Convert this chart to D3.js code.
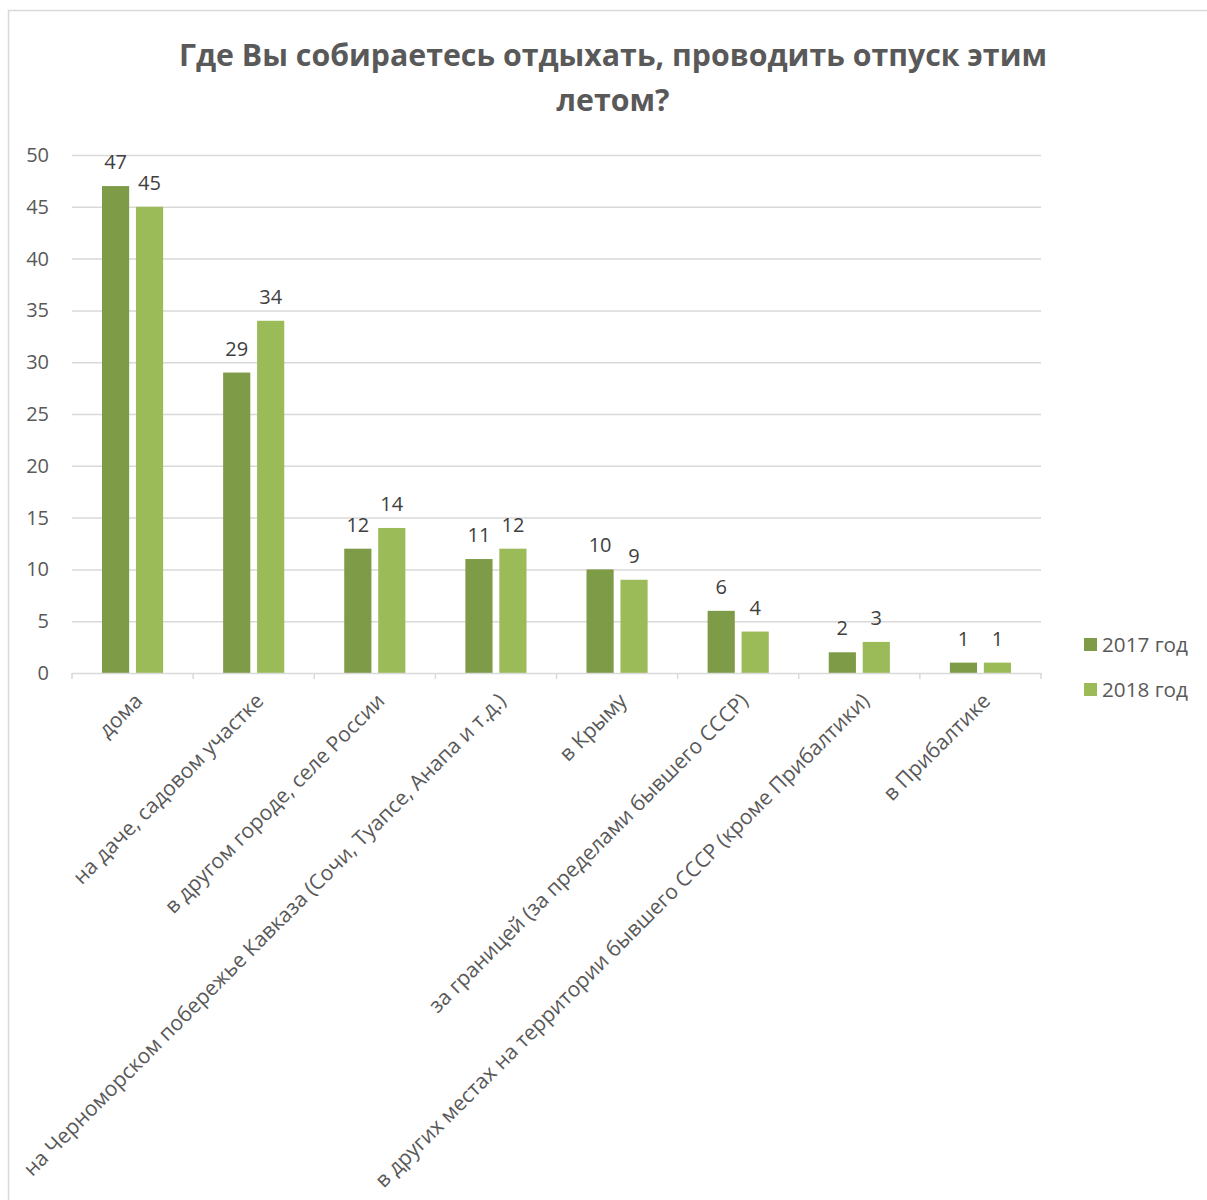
<!DOCTYPE html>
<html>
<head>
<meta charset="utf-8">
<script src="https://cdn.jsdelivr.net/npm/d3@7"></script>
<style>
  body { margin: 0; background: #fff; }
  text { font-family: "Open Sans", "DejaVu Sans", sans-serif; }
</style>
</head>
<body>
<div id="chart"></div>
<script>
// data
var categories = [
  "дома",
  "на даче, садовом участке",
  "в другом городе, селе России",
  "на Черноморском побережье Кавказа (Сочи, Туапсе, Анапа и т.д.)",
  "в Крыму",
  "за границей (за пределами бывшего СССР)",
  "в других местах на территории бывшего СССР (кроме Прибалтики)",
  "в Прибалтике"
];
var seriesNames = ["2017 год", "2018 год"];
var values2017 = [47, 29, 12, 11, 10, 6, 2, 1];
var values2018 = [45, 34, 14, 12, 9, 4, 3, 1];
var yTicks = [0, 5, 10, 15, 20, 25, 30, 35, 40, 45, 50];

var colors = ["#7e9b47", "#9bbb59"];
var W = 1207, H = 1200;
var plotLeft = 72, plotRight = 1041, plotTop = 155, plotBottom = 673;

var svg = d3.select("#chart").append("svg")
    .attr("width", W)
    .attr("height", H);

// outer frame
svg.append("rect")
    .attr("x", 8.5).attr("y", 10.5)
    .attr("width", W + 10).attr("height", H + 10)
    .attr("fill", "none")
    .attr("stroke", "#d9d9d9")
    .attr("stroke-width", 1.5);

// title
svg.append("text")
    .attr("x", 613).attr("y", 66)
    .attr("text-anchor", "middle")
    .style("font-size", "30.3px").style("font-weight", "bold")
    .attr("fill", "#595959")
    .text("Где Вы собираетесь отдыхать, проводить отпуск этим");
svg.append("text")
    .attr("x", 613).attr("y", 111)
    .attr("text-anchor", "middle")
    .style("font-size", "30.3px").style("font-weight", "bold")
    .attr("fill", "#595959")
    .text("летом?");

var x = d3.scaleBand().domain(categories).range([plotLeft, plotRight]);
var xs = d3.scaleBand().domain(seriesNames).range([30, x.bandwidth() - 30])
    .paddingInner(0.2);
var y = d3.scaleLinear().domain([0, 50]).range([plotBottom, plotTop]);

// gridlines
svg.append("g").selectAll("line")
    .data(yTicks.filter(function (d) { return d > 0; }))
    .enter().append("line")
    .attr("x1", plotLeft).attr("x2", plotRight)
    .attr("y1", function (d) { return y(d) + 0.5; })
    .attr("y2", function (d) { return y(d) + 0.5; })
    .attr("stroke", "#d9d9d9").attr("stroke-width", 1.5);

// y labels
svg.append("g").selectAll("text")
    .data(yTicks)
    .enter().append("text")
    .attr("x", 49)
    .attr("y", function (d) { return y(d); })
    .attr("dy", "0.35em")
    .attr("text-anchor", "end")
    .style("font-size", "20px")
    .attr("fill", "#595959")
    .text(function (d) { return d; });

// bars
var series = [values2017, values2018];
series.forEach(function (vals, si) {
  var g = svg.append("g");
  g.selectAll("rect")
      .data(vals)
      .enter().append("rect")
      .attr("x", function (d, i) { return x(categories[i]) + xs(seriesNames[si]); })
      .attr("y", function (d) { return y(d); })
      .attr("width", xs.bandwidth())
      .attr("height", function (d) { return plotBottom - y(d); })
      .attr("fill", colors[si]);
  g.selectAll("text")
      .data(vals)
      .enter().append("text")
      .attr("x", function (d, i) { return x(categories[i]) + xs(seriesNames[si]) + xs.bandwidth() / 2; })
      .attr("y", function (d) { return y(d) - 17; })
      .attr("text-anchor", "middle")
      .style("font-size", "20px")
      .attr("fill", "#404040")
      .text(function (d) { return d; });
});

// x axis
var xAxis = svg.append("g");
xAxis.append("line")
    .attr("x1", plotLeft).attr("x2", plotRight)
    .attr("y1", plotBottom + 0.5).attr("y2", plotBottom + 0.5)
    .attr("stroke", "#d9d9d9").attr("stroke-width", 1.5);
xAxis.selectAll("line.tick")
    .data(categories.concat([null]))
    .enter().append("line")
    .attr("class", "tick")
    .attr("x1", function (d) { return d === null ? plotRight : x(d); })
    .attr("x2", function (d) { return d === null ? plotRight : x(d); })
    .attr("y1", plotBottom).attr("y2", plotBottom + 6)
    .attr("stroke", "#d9d9d9").attr("stroke-width", 1.5);
xAxis.selectAll("text")
    .data(categories)
    .enter().append("text")
    .attr("transform", function (d) {
      return "translate(" + (x(d) + x.bandwidth() / 2 + 6) + "," + (plotBottom + 24) + ") rotate(-45)";
    })
    .attr("text-anchor", "end")
    .attr("dy", "0.35em")
    .style("font-size", "21px")
    .attr("fill", "#595959")
    .text(function (d) { return d; });

// legend
var legend = svg.append("g").selectAll("g")
    .data(seriesNames)
    .enter().append("g")
    .attr("transform", function (d, i) { return "translate(1084," + (638 + i * 45) + ")"; });
legend.append("rect")
    .attr("width", 13).attr("height", 13)
    .attr("fill", function (d, i) { return colors[i]; });
legend.append("text")
    .attr("x", 18).attr("y", 7)
    .attr("dy", "0.35em")
    .style("font-size", "20.7px")
    .attr("fill", "#595959")
    .text(function (d) { return d; });
</script>
</body>
</html>
